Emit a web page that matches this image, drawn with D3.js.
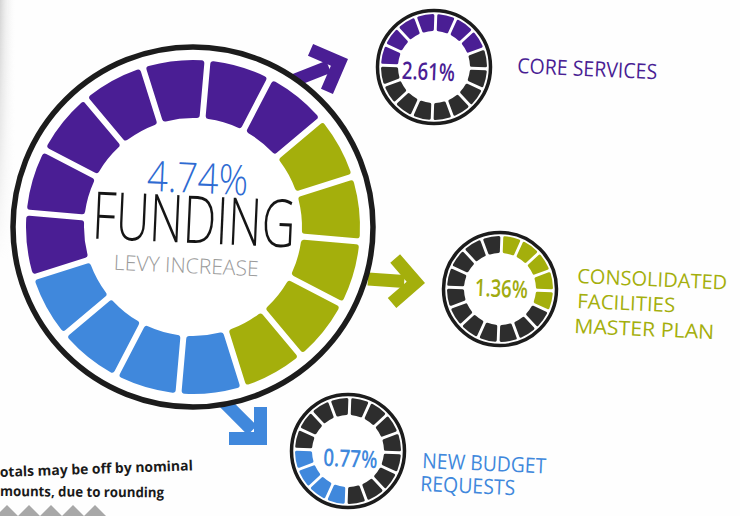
<!DOCTYPE html>
<html>
<head>
<meta charset="utf-8">
<script src="https://cdn.jsdelivr.net/npm/d3@7"></script>
<style>
  html, body { margin: 0; padding: 0; background: #fff; }
  svg { display: block; font-family: "Open Sans", sans-serif; }
</style>
</head>
<body>
<svg id="chart"></svg>
<script>
const categories = ["CORE SERVICES", "CONSOLIDATED FACILITIES MASTER PLAN", "NEW BUDGET REQUESTS"];
const labelLines = [["CORE SERVICES"], ["CONSOLIDATED", "FACILITIES", "MASTER PLAN"], ["NEW BUDGET", "REQUESTS"]];
const shares = [2.61, 1.36, 0.77];
const totalShare = 4.74;
const blockCount = 16;
const bigBlocks = [7, 5, 4];          // blocks per category in the big ring
const bigFirstBlock = 11;             // block where core services starts
const smallFirstBlock = [12, 0, 8];   // where each small ring's coloured run starts
const footnote = ["otals may be off by nominal", "mounts, due to rounding"];

const width = 740;
const height = 516;

const colors = ["#4a1e94", "#a4af0c", "#4088dc"];
const dark = "#2d2d2d";
const big = { cx: 193, cy: 227, ring: 180, outer: 167, inner: 109, turn: 5 };
const smallPos = [[434, 67], [500, 289], [348, 451]];
const small = { ring: 56.5, outer: 53, inner: 36, turn: 2 };
const pctPos = [[428, 80], [501, 297], [350, 467]];
const pctWidth = [53, 53, 54];
const labelPos = [[[517, 73, 140]], [[577, 283, 150], [577, 308, 98], [574, 333, 140]], [[422, 468, 124], [420, 491, 95]]];
const labelSize = [21, 20, 21];
const arrows = [{ from: [290, 82], tip: [348, 59] }, { from: [368, 279], tip: [425, 283] }, { from: [216, 394], tip: [267, 445] }];

const svg = d3.select('#chart')
  .attr('width', width)
  .attr('height', height)
  .attr('viewBox', [0, 0, width, height]);

svg.append('rect').attr('width', width).attr('height', height).attr('fill', '#fefefe');

// faint paper edge shading on the left, fading downwards
const defs = svg.append('defs');
const grad = defs.append('linearGradient').attr('id', 'edge');
grad.append('stop').attr('offset', 0).attr('stop-color', '#d4d4d4');
grad.append('stop').attr('offset', 1).attr('stop-color', '#ffffff').attr('stop-opacity', 0);
const fade = defs.append('linearGradient').attr('id', 'fade')
  .attr('x1', 0).attr('y1', 0).attr('x2', 0).attr('y2', 1);
fade.append('stop').attr('offset', 0).attr('stop-color', '#fff').attr('stop-opacity', 1);
fade.append('stop').attr('offset', 1).attr('stop-color', '#fff').attr('stop-opacity', 0);
defs.append('mask').attr('id', 'edgeMask')
  .append('rect').attr('width', 20).attr('height', 260).attr('fill', 'url(#fade)');
svg.append('rect').attr('x', 0).attr('y', 0).attr('width', 16).attr('height', 260)
  .attr('fill', 'url(#edge)').attr('mask', 'url(#edgeMask)');

const angle = d3.scaleLinear().domain([0, blockCount]).range([0, 2 * Math.PI]);
const rad = d => d * Math.PI / 180;

// arrows go first so the ring covers their tails
const aw = 13, al = 38;
arrows.forEach((a, i) => {
  const [sx, sy] = a.from, [tx, ty] = a.tip;
  const len = Math.hypot(tx - sx, ty - sy);
  const ux = (tx - sx) / len, uy = (ty - sy) / len;
  const nx = -uy, ny = ux;
  const s2 = Math.SQRT2;
  const a1 = [(-ux + nx) / s2, (-uy + ny) / s2];
  const a2 = [(-ux - nx) / s2, (-uy - ny) / s2];
  const p1 = [tx + al * a1[0], ty + al * a1[1]];
  const p1i = [p1[0] - aw * (ux + nx) / s2, p1[1] - aw * (uy + ny) / s2];
  const inner = [tx - s2 * aw * ux, ty - s2 * aw * uy];
  const p2 = [tx + al * a2[0], ty + al * a2[1]];
  const p2i = [p2[0] - aw * (ux - nx) / s2, p2[1] - aw * (uy - ny) / s2];

  svg.append('line')
    .attr('x1', sx).attr('y1', sy)
    .attr('x2', tx - ux * aw * 1.6).attr('y2', ty - uy * aw * 1.6)
    .attr('stroke', colors[i]).attr('stroke-width', aw);
  svg.append('path')
    .attr('d', d3.line()([[tx, ty], p1, p1i, inner, p2i, p2]) + 'Z')
    .attr('fill', colors[i]);
});

// big ring
const bigData = [];
let start = bigFirstBlock;
bigBlocks.forEach((n, i) => {
  d3.range(n).forEach(k => bigData.push({ cat: i, block: start + k }));
  start += n;
});

const bigArc = d3.arc()
  .innerRadius(big.inner)
  .outerRadius(big.outer)
  .cornerRadius(3)
  .padAngle(0.03)
  .startAngle(d => angle(d.block) + rad(big.turn))
  .endAngle(d => angle(d.block + 1) + rad(big.turn));

const gBig = svg.append('g').attr('transform', `translate(${big.cx},${big.cy})`);
gBig.append('circle').attr('r', big.ring).attr('fill', '#fff')
  .attr('stroke', '#1c1c1c').attr('stroke-width', 5.5);
gBig.selectAll('.seg')
  .data(bigData)
  .enter().append('path')
    .attr('class', 'seg')
    .attr('d', bigArc)
    .attr('fill', d => colors[d.cat]);

// centre text
const fmt = d3.format('.2f');
const centreText = [
  { t: fmt(totalShare) + '%', x: 197, y: 193, size: 42, w: 101, fill: '#2e6bd2', weight: 300 },
  { t: 'FUNDING', x: 193, y: 243, size: 66, w: 203, fill: '#151515', weight: 300 },
  { t: 'LEVY INCREASE', x: 186, y: 273, size: 21, w: 145, fill: '#9a9a9a', weight: 300 }
];
svg.selectAll('.centre')
  .data(centreText)
  .enter().append('text')
    .attr('class', 'centre')
    .attr('x', d => d.x).attr('y', d => d.y)
    .attr('transform', d => `rotate(2.5,${d.x},${d.y})`)
    .attr('text-anchor', 'middle')
    .attr('font-size', d => d.size)
    .attr('font-weight', d => d.weight)
    .attr('fill', d => d.fill)
    .attr('textLength', d => d.w)
    .attr('lengthAdjust', 'spacingAndGlyphs')
    .text(d => d.t);

// small rings
const smallArc = d3.arc()
  .innerRadius(small.inner)
  .outerRadius(small.outer)
  .cornerRadius(1.5)
  .padAngle(0.045)
  .startAngle(d => angle(d.block) + rad(small.turn))
  .endAngle(d => angle(d.block + 1) + rad(small.turn));

categories.forEach((c, i) => {
  const g = svg.append('g').attr('transform', `translate(${smallPos[i][0]},${smallPos[i][1]})`);
  g.append('circle').attr('r', small.ring).attr('fill', '#fff')
    .attr('stroke', '#1c1c1c').attr('stroke-width', 3.5);
  const blocks = d3.range(blockCount).map(b => ({
    block: b,
    on: (b - smallFirstBlock[i] + blockCount) % blockCount < bigBlocks[i]
  }));
  g.selectAll('path')
    .data(blocks)
    .enter().append('path')
      .attr('d', smallArc)
      .attr('fill', d => d.on ? colors[i] : dark);

  svg.append('text')
    .attr('x', pctPos[i][0]).attr('y', pctPos[i][1])
    .attr('transform', `rotate(2.5,${pctPos[i][0]},${pctPos[i][1]})`)
    .attr('text-anchor', 'middle')
    .attr('font-size', 24)
    .attr('font-weight', 600)
    .attr('fill', colors[i] === colors[1] ? '#a0ab10' : colors[i])
    .attr('textLength', pctWidth[i])
    .attr('lengthAdjust', 'spacingAndGlyphs')
    .text(fmt(shares[i]) + '%');

  labelLines[i].forEach((line, j) => {
    const [x, y, w] = labelPos[i][j];
    svg.append('text')
      .attr('x', x).attr('y', y)
      .attr('transform', `rotate(2.5,${x},${y})`)
      .attr('font-size', labelSize[i])
      .attr('fill', colors[i])
      .attr('textLength', w)
      .attr('lengthAdjust', 'spacingAndGlyphs')
      .text(line);
  });
});

// footnote
svg.selectAll('.note')
  .data(footnote)
  .enter().append('text')
    .attr('class', 'note')
    .attr('x', 0)
    .attr('y', (d, i) => 477 + i * 19)
    .attr('transform', (d, i) => `rotate(${i ? 0.5 : -2},0,${477 + i * 19})`)
    .attr('font-size', 14)
    .attr('font-weight', 700)
    .attr('fill', '#1a1a1a')
    .attr('textLength', (d, i) => i ? 164 : 193)
    .attr('lengthAdjust', 'spacingAndGlyphs')
    .text(d => d);

// decorative zigzag at the bottom edge
const zig = d3.range(5).map(k => k * 22 - 4);
svg.selectAll('.zig')
  .data(zig)
  .enter().append('path')
    .attr('class', 'zig')
    .attr('d', x => `M${x},516L${x + 11},505L${x + 22},516Z`)
    .attr('fill', '#a8a8a8');
</script>
</body>
</html>
